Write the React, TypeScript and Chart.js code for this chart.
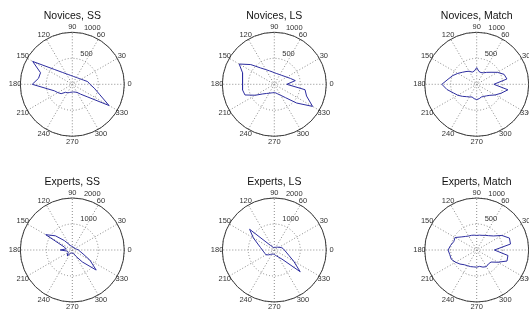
import React, { useEffect, useRef } from "react";
import { Chart, registerables } from "chart.js";

Chart.register(...registerables);

// ---- data ----
const angles = [0, 10, 20, 30, 40, 50, 60, 70, 80, 90, 100, 110, 120, 130, 140, 150, 160, 170,
  180, 190, 200, 210, 220, 230, 240, 250, 260, 270, 280, 290, 300, 310, 320, 330, 340, 350];

const novicesSS = [340, 300, 233, 196, 173, 160, 152, 150, 152, 160, 173, 196, 233, 300, 440, 880, 650, 660,
  770, 490, 367, 320, 280, 200, 190, 170, 155, 150, 150, 160, 180, 247, 373, 815, 553, 429];
const novicesLS = [240, 410, 330, 276, 244, 224, 214, 210, 213, 223, 244, 276, 326, 410, 590, 780, 650, 620,
  611, 620, 600, 420, 288, 230, 198, 177, 165, 160, 169, 197, 244, 335, 560, 850, 660, 600];
const novicesMatch = [330, 590, 560, 460, 360, 300, 255, 240, 250, 320, 260, 250, 290, 320, 360, 420, 490, 560,
  670, 580, 480, 420, 360, 310, 280, 260, 280, 295, 280, 260, 270, 290, 330, 410, 500, 610];
const expertsSS = [240, 170, 140, 125, 115, 110, 110, 120, 130, 140, 150, 170, 250, 470, 850, 1180, 320, 240,
  460, 220, 180, 180, 220, 290, 150, 125, 115, 115, 125, 150, 280, 600, 1200, 780, 440, 300];
const expertsLS = [388, 340, 280, 210, 170, 140, 120, 110, 105, 100, 95, 110, 150, 232, 1240, 930, 671, 537,
  460, 412, 384, 370, 290, 220, 185, 170, 165, 170, 201, 241, 309, 455, 1300, 860, 592, 462];
const expertsMatch = [340, 660, 670, 560, 420, 360, 325, 300, 290, 280, 290, 300, 310, 340, 390, 480, 470, 510,
  550, 525, 520, 470, 420, 370, 350, 340, 330, 330, 320, 350, 370, 350, 360, 470, 620, 610];

const titles = ["Novices, SS", "Novices, LS", "Novices, Match", "Experts, SS", "Experts, LS", "Experts, Match"];
const seriesList = [novicesSS, novicesLS, novicesMatch, expertsSS, expertsLS, expertsMatch];
const rMaxList = [1000, 1000, 1000, 2000, 2000, 1000];
const rTickList = [[500, 1000], [500, 1000], [500, 1000], [1000, 2000], [1000, 2000], [500, 1000]];

const spokeAngles = [30, 60, 90, 120, 150, 180];
const angleTickValues = [0, 30, 60, 90, 120, 150, 180, 210, 240, 270, 300, 330];
const angleTickLabels = ["0", "30", "60", "90", "120", "150", "180", "210", "240", "270", "300", "330"];

// ---- layout ----
const W = 529;
const H = 311;
const R = 52;
const colX = [72.3, 274.3, 476.7];
const rowY = [84.3, 250];
const FONT = "'Liberation Sans', Arial, Helvetica, sans-serif";
const LINE_COLOR = "#2d2da0";

const deg = (a: number) => (a * Math.PI) / 180;

function makePlugin(title: string, rmax: number, rticks: number[]) {
  return {
    id: "polarGrid",
    beforeDatasetsDraw(chart: any) {
      const { ctx } = chart;
      const xs = chart.scales.x;
      const ys = chart.scales.y;
      const px = (x: number) => xs.getPixelForValue(x);
      const py = (y: number) => ys.getPixelForValue(y);
      const cx = px(0);
      const cy = py(0);
      const rad = (r: number) => px(r) - cx;
      ctx.save();
      // disc
      ctx.fillStyle = "#ffffff";
      ctx.beginPath();
      ctx.arc(cx, cy, rad(rmax), 0, Math.PI * 2);
      ctx.fill();
      // dotted rings
      ctx.strokeStyle = "#8c8c8c";
      ctx.lineWidth = 1;
      ctx.setLineDash([1, 2]);
      for (const r of rticks) {
        ctx.beginPath();
        ctx.arc(cx, cy, rad(r), 0, Math.PI * 2);
        ctx.stroke();
      }
      // dotted spokes
      for (const a of spokeAngles) {
        const c = Math.cos(deg(a));
        const s = Math.sin(deg(a));
        ctx.beginPath();
        ctx.moveTo(px(-rmax * c), py(-rmax * s));
        ctx.lineTo(px(rmax * c), py(rmax * s));
        ctx.stroke();
      }
      // rim
      ctx.setLineDash([]);
      ctx.strokeStyle = "#3c3c3c";
      ctx.lineWidth = 1;
      ctx.beginPath();
      ctx.arc(cx, cy, rad(rmax), 0, Math.PI * 2);
      ctx.stroke();
      // angle labels
      ctx.fillStyle = "#333333";
      ctx.font = `7.5px ${FONT}`;
      ctx.textAlign = "center";
      ctx.textBaseline = "middle";
      angleTickValues.forEach((a, i) => {
        const rt = 1.1 * rmax;
        ctx.fillText(angleTickLabels[i], px(rt * Math.cos(deg(a))), py(rt * Math.sin(deg(a))));
      });
      // radial tick labels
      ctx.textAlign = "left";
      ctx.textBaseline = "bottom";
      const rinc = rticks[0];
      for (const r of rticks) {
        const rr = r + rinc / 20;
        ctx.fillText("  " + String(r), px(rr * Math.cos(deg(82))), py(rr * Math.sin(deg(82))));
      }
      // title
      ctx.fillStyle = "#111111";
      ctx.font = `10.5px ${FONT}`;
      ctx.textAlign = "center";
      ctx.textBaseline = "middle";
      ctx.fillText(title, cx, cy - 68);
      ctx.restore();
    },
  };
}

function buildChart(canvas: HTMLCanvasElement, idx: number) {
  const values = seriesList[idx];
  const rmax = rMaxList[idx];
  const cx = colX[idx % 3];
  const cy = rowY[Math.floor(idx / 3)];
  const pts = angles.map((a, i) => ({
    x: values[i] * Math.cos(deg(a)),
    y: values[i] * Math.sin(deg(a)),
  }));
  pts.push(pts[0]);
  return new Chart(canvas, {
    type: "scatter",
    data: {
      datasets: [
        {
          data: pts,
          showLine: true,
          borderColor: LINE_COLOR,
          backgroundColor: LINE_COLOR,
          borderWidth: 1,
          pointRadius: 0,
          fill: false,
          tension: 0,
        },
      ],
    },
    options: {
      responsive: false,
      animation: false,
      events: [],
      layout: {
        padding: {
          left: cx - R,
          right: Math.max(0, W - (cx + R)),
          top: cy - R,
          bottom: H - (cy + R),
        },
      },
      scales: {
        x: { type: "linear", min: -rmax, max: rmax, display: false },
        y: { type: "linear", min: -rmax, max: rmax, display: false },
      },
      plugins: {
        legend: { display: false },
        tooltip: { enabled: false },
        title: { display: false },
      },
    },
    plugins: [makePlugin(titles[idx], rmax, rTickList[idx])],
  } as any);
}

export default function App() {
  const refs = useRef<(HTMLCanvasElement | null)[]>([]);
  useEffect(() => {
    const charts = titles.map((_, i) => buildChart(refs.current[i] as HTMLCanvasElement, i));
    return () => charts.forEach((c) => c.destroy());
  }, []);
  return (
    <div
      style={{
        position: "fixed",
        left: 0,
        top: 0,
        width: W,
        height: H,
        background: "#ffffff",
        overflow: "hidden",
      }}
    >
      {titles.map((t, i) => (
        <canvas
          key={t}
          ref={(el) => {
            refs.current[i] = el;
          }}
          width={W}
          height={H}
          style={{ position: "absolute", left: 0, top: 0, width: W, height: H }}
        />
      ))}
    </div>
  );
}
